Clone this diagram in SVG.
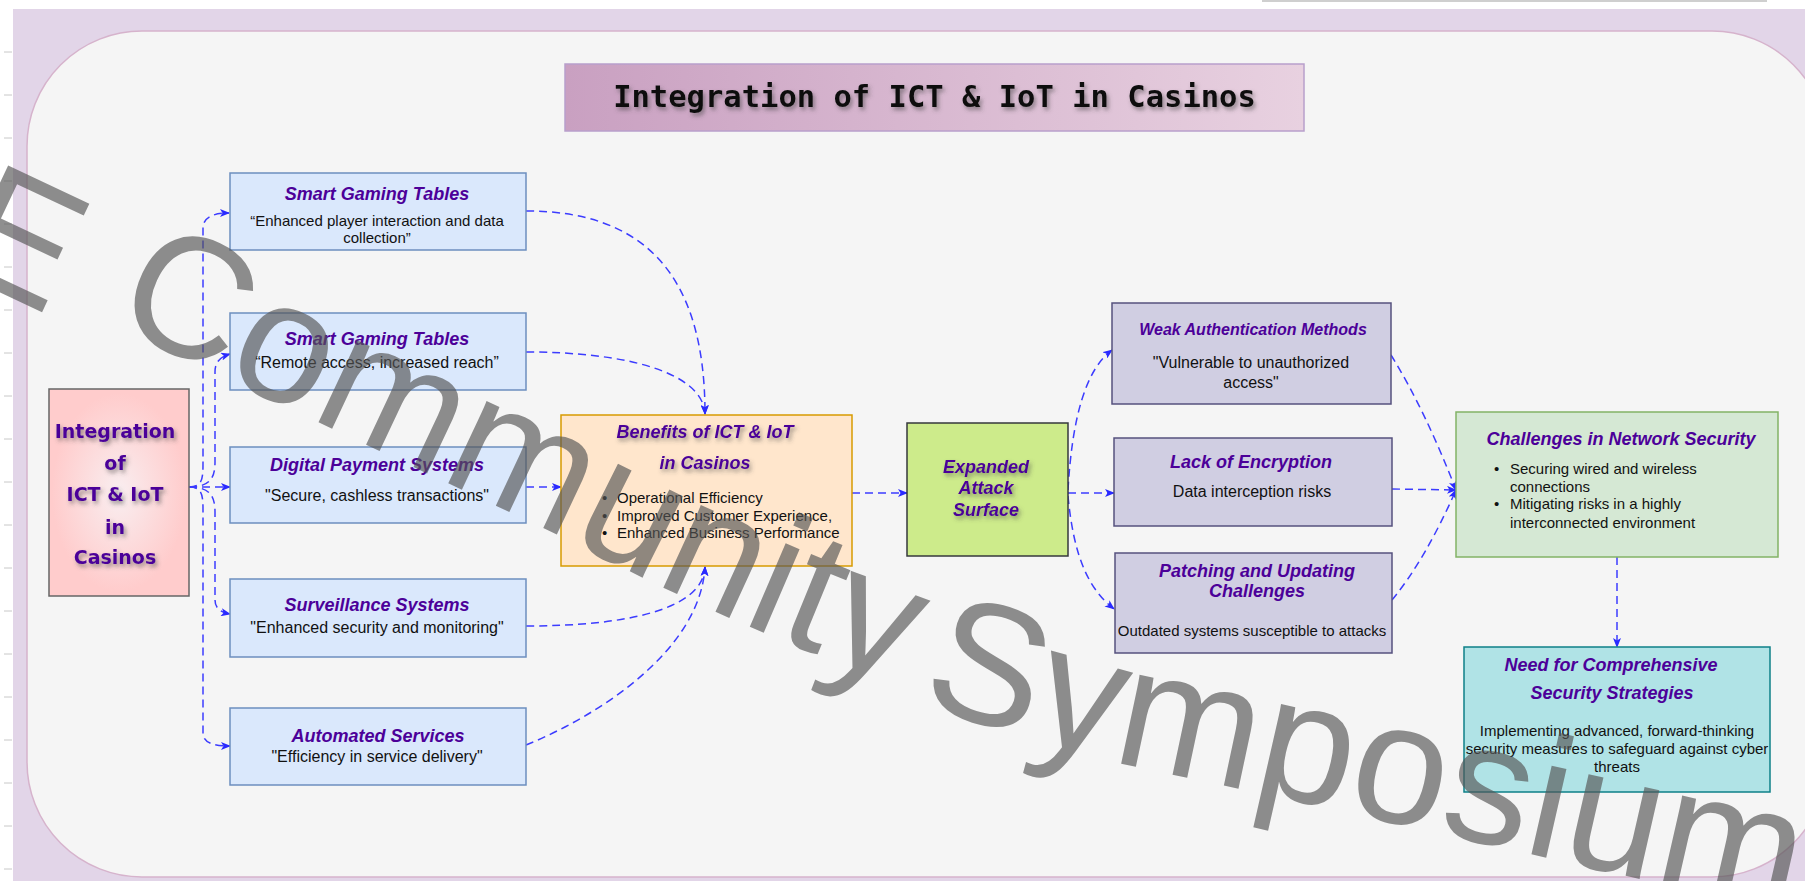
<svg xmlns="http://www.w3.org/2000/svg" width="1805" height="881" viewBox="0 0 1805 881">
<style>
.t{font-family:"Liberation Sans",Arial,sans-serif;font-weight:bold;font-style:italic;font-size:18px;fill:#4C0099;text-anchor:middle}
.b{font-family:"Liberation Sans",Arial,sans-serif;font-size:16px;fill:#111;text-anchor:middle}
.b.sm{font-size:15px}
.t.sm{font-size:16px}
.s{font-family:"Liberation Sans",Arial,sans-serif;font-size:15px;fill:#111}
.e{fill:none;stroke:#3c3cff;stroke-width:1.5;stroke-dasharray:8 5;marker-end:url(#arr)}
.tick{stroke:#c8c8c8;stroke-width:1}
.wm{font-family:"Liberation Sans",Arial,sans-serif;font-size:172px;fill:#555;fill-opacity:0.66}
</style>
<defs>
<marker id="arr" viewBox="0 0 10 8" refX="9" refY="4" markerWidth="10" markerHeight="8" markerUnits="userSpaceOnUse" orient="auto">
<path d="M0,0 L10,4 L0,8 L2.5,4 z" fill="#2a2aff"/>
</marker>
<linearGradient id="gTitle" x1="0" y1="0" x2="1" y2="0">
<stop offset="0" stop-color="#C9A0C1"/>
<stop offset="1" stop-color="#E8D1E0"/>
</linearGradient>
<radialGradient id="gLeft" cx="0.5" cy="0.5" r="0.6">
<stop offset="0" stop-color="#F9EEF0"/>
<stop offset="0.8" stop-color="#FFCCCC"/>
<stop offset="1" stop-color="#FFCCCC"/>
</radialGradient>
<filter id="sh" x="-20%" y="-40%" width="140%" height="180%">
<feDropShadow dx="2" dy="3" stdDeviation="2" flood-color="#444" flood-opacity="0.55"/>
</filter>
<path id="wmPath" d="M-37,266 L560,547 Q910,730 1250,790 L1950,950"/>
</defs>

<rect x="0" y="0" width="1805" height="881" fill="#ffffff"/>
<rect x="1262" y="0" width="505" height="2" fill="#cfcfcf"/>
<rect x="13" y="9" width="1792" height="872" fill="#E2D5E8"/>
<g class="tick">
<line x1="4" y1="52" x2="12" y2="52"/><line x1="4" y1="95" x2="12" y2="95"/><line x1="4" y1="138" x2="12" y2="138"/>
<line x1="4" y1="181" x2="12" y2="181"/><line x1="4" y1="224" x2="12" y2="224"/><line x1="4" y1="267" x2="12" y2="267"/>
<line x1="4" y1="310" x2="12" y2="310"/><line x1="4" y1="353" x2="12" y2="353"/><line x1="4" y1="396" x2="12" y2="396"/>
<line x1="4" y1="439" x2="12" y2="439"/><line x1="4" y1="482" x2="12" y2="482"/><line x1="4" y1="525" x2="12" y2="525"/>
<line x1="4" y1="568" x2="12" y2="568"/><line x1="4" y1="611" x2="12" y2="611"/><line x1="4" y1="654" x2="12" y2="654"/>
<line x1="4" y1="697" x2="12" y2="697"/><line x1="4" y1="740" x2="12" y2="740"/><line x1="4" y1="783" x2="12" y2="783"/>
<line x1="4" y1="826" x2="12" y2="826"/><line x1="4" y1="869" x2="12" y2="869"/>
</g>
<rect x="27" y="31" width="1800" height="846" rx="115" ry="115" fill="#F5F5F5" stroke="#D6B3CC" stroke-width="1.5"/>

<g id="title">
<rect x="565" y="64" width="739" height="67" fill="url(#gTitle)" stroke="#B89FCB" stroke-width="1.5"/>
<text x="934.5" y="107" font-family="'DejaVu Sans Mono',monospace" font-weight="bold" font-size="30.5" text-anchor="middle" fill="#111" filter="url(#sh)">Integration of ICT &amp; IoT in Casinos</text>
</g>

<g id="connectors">
<path class="e" d="M189,487 C203,487 203,478 203,462 L203,228 C203,218 212,213 229,213"/>
<path class="e" d="M189,487 C210,487 215,478 215,462 L215,372 C215,362 220,357 230,354"/>
<path class="e" d="M189,487 L230,487"/>
<path class="e" d="M189,487 C210,487 215,496 215,512 L215,600 C215,608 220,612 230,614"/>
<path class="e" d="M189,487 C203,487 203,496 203,512 L203,733 C203,742 212,746 230,746"/>
<path class="e" d="M526,211 C640,211 705,270 705,414"/>
<path class="e" d="M526,352 C625,352 703,372 705,414"/>
<path class="e" d="M526,487 L561,487"/>
<path class="e" d="M526,626 C625,626 703,610 705,567"/>
<path class="e" d="M526,745 C600,715 700,650 705,567"/>
<path class="e" d="M852,493 L907,493"/>
<path class="e" d="M1068,490 C1072,420 1085,370 1112,350"/>
<path class="e" d="M1068,493 L1114,493"/>
<path class="e" d="M1068,496 C1074,560 1090,590 1114,609"/>
<path class="e" d="M1391,355 Q1425,410 1456,490"/>
<path class="e" d="M1392,489 L1456,490"/>
<path class="e" d="M1392,600 Q1425,560 1456,490"/>
<path class="e" d="M1617,557 L1617,647"/>
</g>

<g id="n-integration">
<rect x="49" y="389" width="140" height="207" fill="url(#gLeft)" stroke="#666" stroke-width="1.5"/>
<g font-family="'DejaVu Sans',Verdana,sans-serif" font-weight="bold" font-size="19" fill="#4C0099" text-anchor="middle" filter="url(#sh)">
<text x="115" y="438">Integration</text>
<text x="115" y="470">of</text>
<text x="115" y="501">ICT &amp; IoT</text>
<text x="115" y="534">in</text>
<text x="115" y="564">Casinos</text>
</g>
</g>

<g id="n-smart1">
<rect x="230" y="173" width="296" height="77" fill="#DAE8FC" stroke="#6C8EBF" stroke-width="1.5"/>
<text class="t" x="377" y="200">Smart Gaming Tables</text>
<text class="b sm" x="377" y="226">“Enhanced player interaction and data</text>
<text class="b sm" x="377" y="243">collection”</text>
</g>

<g id="n-smart2">
<rect x="230" y="313" width="296" height="77" fill="#DAE8FC" stroke="#6C8EBF" stroke-width="1.5"/>
<text class="t" x="377" y="345">Smart Gaming Tables</text>
<text class="b" x="377" y="368">“Remote access, increased reach”</text>
</g>

<g id="n-payment">
<rect x="230" y="447" width="296" height="76" fill="#DAE8FC" stroke="#6C8EBF" stroke-width="1.5"/>
<text class="t" x="377" y="471">Digital Payment Systems</text>
<text class="b" x="377" y="501">"Secure, cashless transactions"</text>
</g>

<g id="n-surveillance">
<rect x="230" y="579" width="296" height="78" fill="#DAE8FC" stroke="#6C8EBF" stroke-width="1.5"/>
<text class="t" x="377" y="611">Surveillance Systems</text>
<text class="b" x="377" y="633">"Enhanced security and monitoring"</text>
</g>

<g id="n-automated">
<rect x="230" y="708" width="296" height="77" fill="#DAE8FC" stroke="#6C8EBF" stroke-width="1.5"/>
<text class="t" x="378" y="742">Automated Services</text>
<text class="b" x="377" y="762">"Efficiency in service delivery"</text>
</g>

<g id="n-benefits">
<rect x="561" y="415" width="291" height="151" fill="#FFE6CC" stroke="#D79B00" stroke-width="1.5"/>
<text class="t" x="705" y="438" filter="url(#sh)">Benefits of ICT &amp; IoT</text>
<text class="t" x="705" y="469" filter="url(#sh)">in Casinos</text>
<text class="s" x="602" y="503">•</text><text class="s" x="617" y="503">Operational Efficiency</text>
<text class="s" x="602" y="521">•</text><text class="s" x="617" y="521">Improved Customer Experience,</text>
<text class="s" x="602" y="538">•</text><text class="s" x="617" y="538">Enhanced Business Performance</text>
</g>

<g id="n-expanded">
<rect x="907" y="423" width="161" height="133" fill="#CDEB8B" stroke="#36393D" stroke-width="1.5"/>
<text class="t" x="986" y="473" filter="url(#sh)">Expanded</text>
<text class="t" x="986" y="494" filter="url(#sh)">Attack</text>
<text class="t" x="986" y="516" filter="url(#sh)">Surface</text>
</g>

<g id="n-weak">
<rect x="1112" y="303" width="279" height="101" fill="#D0CEE2" stroke="#56517E" stroke-width="1.5"/>
<text class="t sm" x="1253" y="335">Weak Authentication Methods</text>
<text class="b" x="1251" y="368">"Vulnerable to unauthorized</text>
<text class="b" x="1251" y="388">access"</text>
</g>

<g id="n-encryption">
<rect x="1114" y="438" width="278" height="88" fill="#D0CEE2" stroke="#56517E" stroke-width="1.5"/>
<text class="t" x="1251" y="468">Lack of Encryption</text>
<text class="b" x="1252" y="497">Data interception risks</text>
</g>

<g id="n-patching">
<rect x="1115" y="553" width="277" height="100" fill="#D0CEE2" stroke="#56517E" stroke-width="1.5"/>
<text class="t" x="1257" y="577">Patching and Updating</text>
<text class="t" x="1257" y="597">Challenges</text>
<text class="b sm" x="1252" y="636">Outdated systems susceptible to attacks</text>
</g>

<g id="n-challenges">
<rect x="1456" y="412" width="322" height="145" fill="#D5E8D4" stroke="#82B366" stroke-width="1.5"/>
<text class="t" x="1621" y="445">Challenges in Network Security</text>
<text class="s" x="1494" y="474">•</text><text class="s" x="1510" y="474">Securing wired and wireless</text>
<text class="s" x="1510" y="492">connections</text>
<text class="s" x="1494" y="509">•</text><text class="s" x="1510" y="509">Mitigating risks in a highly</text>
<text class="s" x="1510" y="528">interconnected environment</text>
</g>

<g id="n-need">
<rect x="1464" y="647" width="306" height="145" fill="#B0E3E6" stroke="#0E8088" stroke-width="1.5"/>
<text class="t" x="1611" y="671">Need for Comprehensive</text>
<text class="t" x="1612" y="699">Security Strategies</text>
<text class="b sm" x="1617" y="736">Implementing advanced, forward-thinking</text>
<text class="b sm" x="1617" y="754">security measures to safeguard against cyber</text>
<text class="b sm" x="1617" y="772">threats</text>
</g>

<text class="wm"><textPath href="#wmPath"><tspan dx="-16" dy="8">E</tspan><tspan dx="10" dy="-18"> Community</tspan><tspan dx="-24" dy="10"> Symposium</tspan></textPath></text>
</svg>
